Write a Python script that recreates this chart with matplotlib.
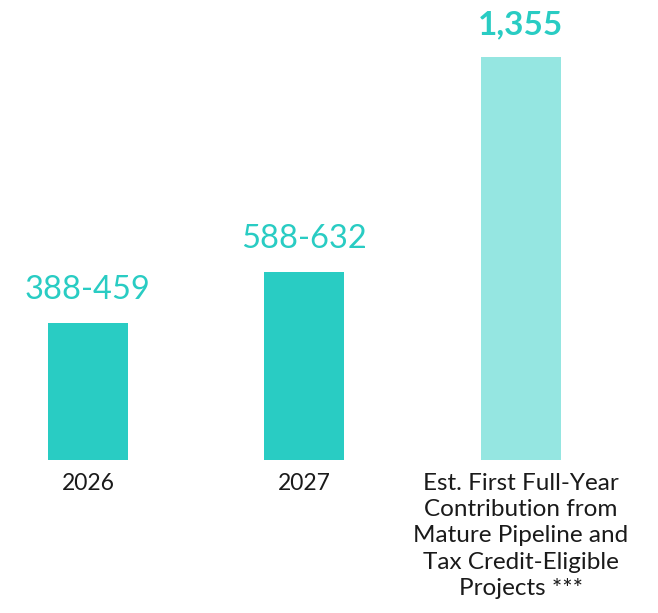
import matplotlib
matplotlib.use("Agg")
import matplotlib.pyplot as plt

categories = ["2026", "2027",
              "Est. First Full-Year\nContribution from\nMature Pipeline and\nTax Credit-Eligible\nProjects ***"]
bar_values = [459, 632, 1355]
value_labels = ["388-459", "588-632", "1,355"]
bold_flags = [False, False, True]
colors = ["#29CCC3", "#29CCC3", "#95E6E1"]

FONT = ["Lato", "DejaVu Sans"]

fig = plt.figure(figsize=(6.58, 6.13), dpi=100)
ax = fig.add_axes([0, 153/613, 1, 460/613])
x = list(range(len(categories)))
ax.bar(x, bar_values, width=0.37, color=colors, linewidth=0)
ax.set_xlim(-0.406, 2.633)
ax.set_ylim(0, 1546.7)

for xi, v, lab, b in zip(x, bar_values, value_labels, bold_flags):
    ax.annotate(lab, (xi, v), xytext=(0, 13), textcoords="offset points",
                ha="center", va="bottom", fontsize=23.5 if not b else 24,
                fontweight="bold" if b else "normal",
                color="#29CCC3", family=FONT)

for xi, c in zip(x, categories):
    multi = "\n" in c
    ax.annotate(c, (xi, 0), xytext=(0, -9), textcoords="offset points",
                ha="center", va="top", fontsize=17.5 if multi else 16.5,
                color="#1a1a1a", family=FONT, linespacing=1.32)

ax.axis("off")
fig.savefig("out.png", dpi=100)
